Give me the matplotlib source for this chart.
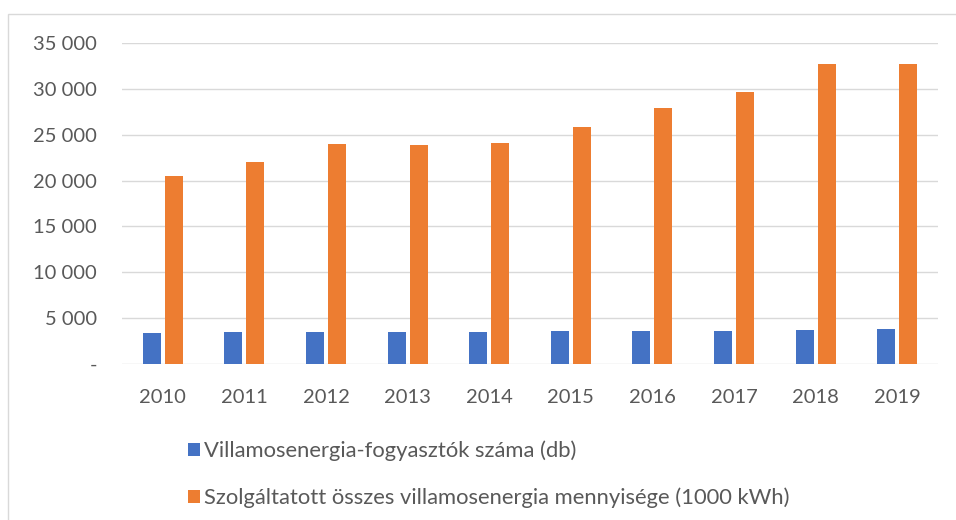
import matplotlib.pyplot as plt
import matplotlib.patches as mpatches
import numpy as np

## -----------------------------------------------------------------------------
## data
years = ["2010", "2011", "2012", "2013", "2014", "2015", "2016", "2017", "2018", "2019"]
consumers = [3400, 3440, 3450, 3500, 3500, 3550, 3620, 3620, 3660, 3850]
energy = [20500, 22000, 23950, 23900, 24100, 25850, 27950, 29700, 32700, 32750]
labels = ["Villamosenergia-fogyasztók száma (db)",
          "Szolgáltatott összes villamosenergia mennyisége (1000 kWh)"]
colors = ["#4472C4", "#ED7D31"]
text_color = "#595959"

plt.rcParams["font.family"] = ["Lato", "DejaVu Sans"]

## -----------------------------------------------------------------------------
fig = plt.figure(figsize=(9.56, 5.2), dpi=100)
ax = fig.add_axes([0.1276, 0.3, 0.8536, 0.6173])

# light frame round the chart
fig.patches.append(mpatches.Rectangle((8/956, -0.1), 1.2, 1 - 14/520 + 0.1, transform=fig.transFigure,
                                      fill=False, edgecolor="#d9d9d9", linewidth=1))

x = np.arange(len(years))
w = 0.22
ax.bar(x - w/2 - 0.025, consumers, w, color=colors[0], label=labels[0], zorder=3)
ax.bar(x + w/2 + 0.025, energy, w, color=colors[1], label=labels[1], zorder=3)

ax.set_xlim(-0.5, len(years) - 0.5)
ax.set_ylim(0, 35000)
ticks = np.arange(0, 35001, 5000)
ax.set_yticks(ticks)
ax.set_yticklabels(["-" if t == 0 else f"{t:,}".replace(",", " ") for t in ticks])
ax.set_xticks(x)
ax.set_xticklabels(years)

ax.grid(axis="y", color="#d9d9d9", linewidth=1, zorder=0)
for s in ax.spines.values():
    s.set_visible(False)
ax.tick_params(axis="both", length=0, labelsize=14.5, colors=text_color)
ax.tick_params(axis="x", pad=18)
ax.tick_params(axis="y", pad=18)

fig.legend(loc="upper left", bbox_to_anchor=(168/956, 1 - 421/520), frameon=False,
           fontsize=15.8, labelcolor=text_color, handlelength=0.55, handleheight=0.55,
           handletextpad=0.2, labelspacing=1.2)

fig.savefig("out.png", dpi=100)
